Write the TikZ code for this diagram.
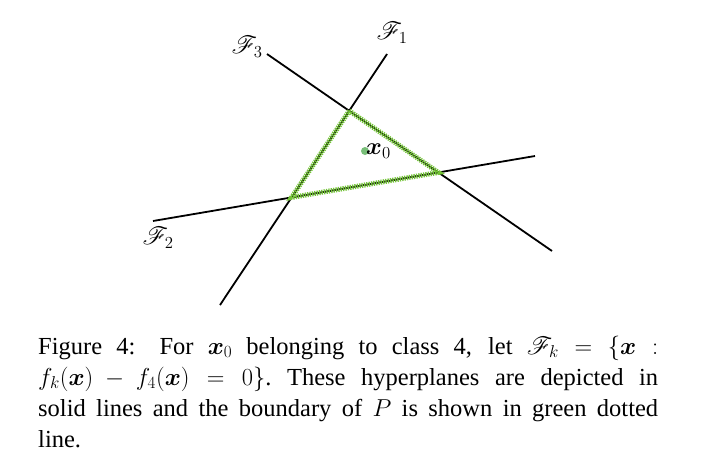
\RequirePackage{fix-cm}
\documentclass[tikz,border=0pt]{standalone}
\usepackage{amsmath,amssymb,bm}
\usepackage{mathrsfs}
\usepackage{fontspec}
\setmainfont{Liberation Serif}
\definecolor{dotgreen}{RGB}{115,195,55}
\definecolor{ptgreen}{RGB}{120,190,120}
\newcommand{\capglue}{\medmuskip=4mu plus 1.5mu\relax\thickmuskip=5mu plus 2.5mu\relax}
\begin{document}
\begin{tikzpicture}[x=1pt,y=-1pt,
  hyper/.style={draw=black,line width=1.8pt},
  boundaryline/.style={draw=black!75!dotgreen,line width=1.4pt},
  boundary/.style={draw=dotgreen,line width=5pt,dash pattern=on 1.3pt off 1.1pt},
  lbl/.style={inner sep=0pt,font=\fontsize{24}{28}\selectfont},
  caption/.style={inner sep=0pt,text width=620pt,align=justify,
    font=\fontsize{24.5}{31.3}\selectfont}]
\useasboundingbox (0,0) rectangle (717,469);
% line ends
\coordinate (a1) at (220,305);
\coordinate (b1) at (387,54);
\coordinate (a3) at (267,54);
\coordinate (b3) at (552,251);
\coordinate (a2) at (153,221);
\coordinate (b2) at (535,156);
\draw[hyper] (a1) -- (b1);
\draw[hyper] (a3) -- (b3);
\draw[hyper] (a2) -- (b2);
% triangle vertices
\coordinate (vt) at (intersection of a1--b1 and a3--b3);
\coordinate (vr) at (intersection of a3--b3 and a2--b2);
\coordinate (vl) at (intersection of a1--b1 and a2--b2);
\draw[boundaryline] (vt) -- (vr) -- (vl) -- cycle;
\draw[boundary] (vt) -- (vr) -- (vl) -- cycle;
% point
\node[circle,fill=ptgreen,inner sep=0pt,minimum size=8pt] (x0) at (365,151) {};
\node[lbl,anchor=west] (x0lbl) at (366,151) {$\bm{x}_0$};
% labels
\node[lbl] (f1) at (392,33) {$\mathscr{F}_1$};
\node[lbl] (f3) at (247,47) {$\mathscr{F}_3$};
\node[lbl] (f2) at (158,238) {$\mathscr{F}_2$};
% caption
\node[caption,anchor=base west] (cap) at (38,354) {\capglue Figure 4: For $\bm{x}_0$ belonging to class 4, let $\mathscr{F}_k = \{\bm{x} :$\linebreak $f_k(\bm{x})-f_4(\bm{x}) = 0\}$.\ These hyperplanes are depicted in\linebreak solid lines and the boundary of $P$ is shown in green dotted\linebreak line.};
\end{tikzpicture}
\end{document}
